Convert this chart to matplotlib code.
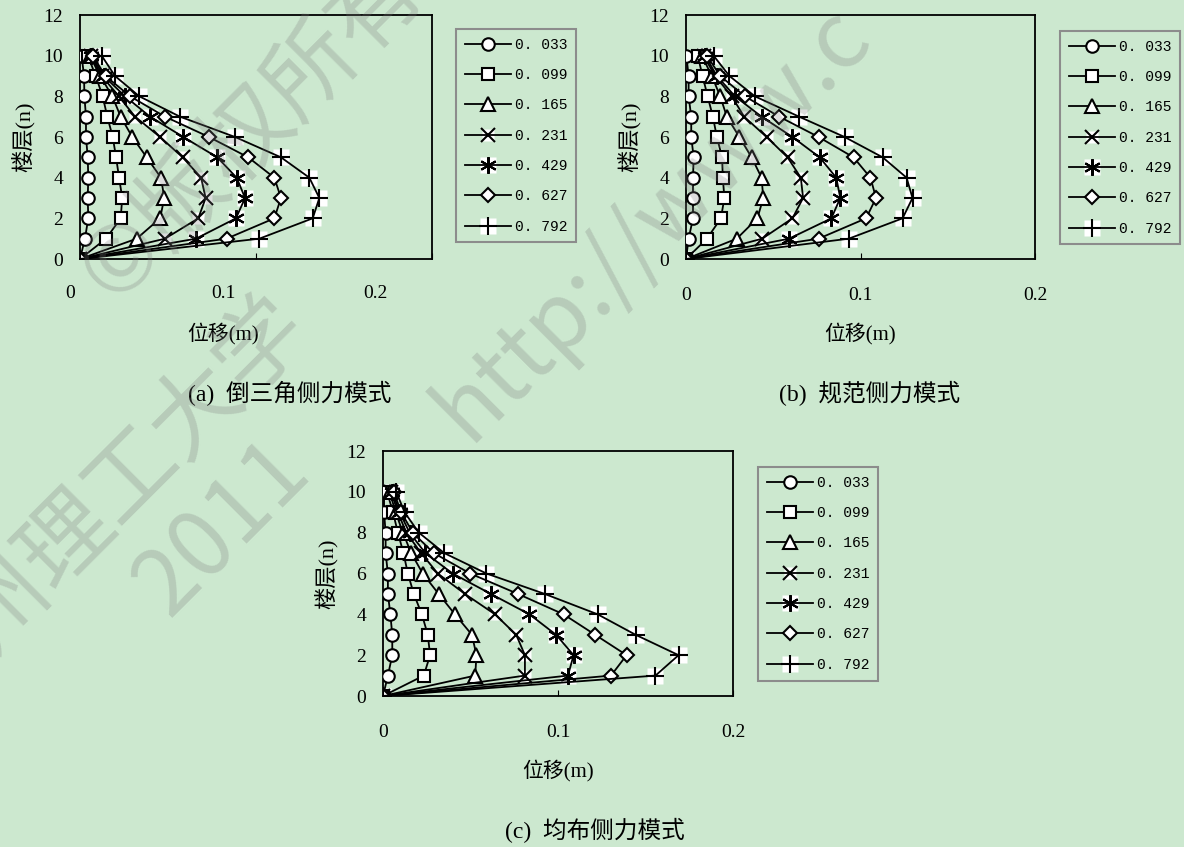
import numpy as np
import matplotlib.pyplot as plt
from matplotlib.legend_handler import HandlerTuple

plt.rcParams['font.family'] = ['Liberation Serif', 'Noto Sans CJK SC']
plt.rcParams['axes.unicode_minus'] = False

floors = np.arange(0, 11)
series_labels = ['0. 033', '0. 099', '0. 165', '0. 231', '0. 429', '0. 627', '0. 792']
x_ticks = [0, 0.1, 0.2]
x_tick_labels = ['0', '0.1', '0.2']
y_ticks = [0, 2, 4, 6, 8, 10, 12]

# (a) 倒三角侧力模式
a_033 = [0, 0.0028, 0.0047, 0.0044, 0.0047, 0.0044, 0.0034, 0.0034, 0.0025, 0.0023, 0.0009]
a_099 = [0, 0.0148, 0.0231, 0.0240, 0.0222, 0.0205, 0.0186, 0.0155, 0.0129, 0.0089, 0.0045]
a_165 = [0, 0.0322, 0.0455, 0.0479, 0.0460, 0.0379, 0.0297, 0.0231, 0.0184, 0.0115, 0.0055]
a_231 = [0, 0.0483, 0.0672, 0.0714, 0.0688, 0.0583, 0.0455, 0.0313, 0.0220, 0.0125, 0.0060]
a_429 = [0, 0.0659, 0.0886, 0.0938, 0.0890, 0.0780, 0.0587, 0.0398, 0.0256, 0.0135, 0.0065]
a_627 = [0, 0.0833, 0.1104, 0.1142, 0.1104, 0.0956, 0.0733, 0.0483, 0.0285, 0.0145, 0.0072]
a_792 = [0, 0.1019, 0.1322, 0.1360, 0.1303, 0.1142, 0.0881, 0.0568, 0.0337, 0.0199, 0.0123]

# (b) 规范侧力模式
b_033 = [0, 0.0015, 0.0040, 0.0040, 0.0040, 0.0044, 0.0030, 0.0030, 0.0015, 0.0015, 0.0002]
b_099 = [0, 0.0120, 0.0200, 0.0220, 0.0211, 0.0207, 0.0177, 0.0154, 0.0124, 0.0095, 0.0067]
b_165 = [0, 0.0291, 0.0409, 0.0443, 0.0433, 0.0376, 0.0306, 0.0234, 0.0196, 0.0148, 0.0091]
b_231 = [0, 0.0437, 0.0610, 0.0671, 0.0658, 0.0582, 0.0462, 0.0333, 0.0262, 0.0167, 0.0101]
b_429 = [0, 0.0591, 0.0833, 0.0884, 0.0861, 0.0766, 0.0610, 0.0433, 0.0281, 0.0177, 0.0110]
b_627 = [0, 0.0760, 0.1032, 0.1089, 0.1057, 0.0960, 0.0760, 0.0534, 0.0338, 0.0196, 0.0120]
b_792 = [0, 0.0933, 0.1241, 0.1298, 0.1264, 0.1127, 0.0909, 0.0648, 0.0395, 0.0249, 0.0158]

# (c) 均布侧力模式
c_033 = [0, 0.0028, 0.0053, 0.0053, 0.0042, 0.0028, 0.0028, 0.0015, 0.0015, 0.0006, 0.0006]
c_099 = [0, 0.0233, 0.0269, 0.0256, 0.0222, 0.0176, 0.0142, 0.0117, 0.0085, 0.0057, 0.0023]
c_165 = [0, 0.0527, 0.0534, 0.0508, 0.0411, 0.0318, 0.0227, 0.0161, 0.0114, 0.0072, 0.0038]
c_231 = [0, 0.0811, 0.0811, 0.0761, 0.0640, 0.0468, 0.0313, 0.0218, 0.0133, 0.0085, 0.0047]
c_429 = [0, 0.1057, 0.1089, 0.0989, 0.0837, 0.0616, 0.0398, 0.0242, 0.0152, 0.0095, 0.0053]
c_627 = [0, 0.1303, 0.1392, 0.1212, 0.1032, 0.0771, 0.0498, 0.0290, 0.0170, 0.0104, 0.0061]
c_792 = [0, 0.1557, 0.1689, 0.1443, 0.1227, 0.0924, 0.0591, 0.0350, 0.0205, 0.0123, 0.0076]

# marker, size, white box behind the marker (Excel style)
styles = [
    ('o', 9, False),
    ('s', 8.5, False),
    ('^', 10, False),
    ('x', 10, True),
    ((6, 2, 0), 12, True),
    ('D', 7, False),
    ('+', 13, True),
]

BG = '#cce8cf'
W, H = 1184, 847

fig = plt.figure(figsize=(W / 100, H / 100), dpi=100, facecolor=BG)


def px_axes(left, right, top, bottom):
    return fig.add_axes([left / W, 1 - bottom / H, (right - left) / W, (bottom - top) / H])


def draw_panel(ax, data):
    handles = []
    for vals, (mk, ms, boxed) in zip(data, styles):
        line, = ax.plot(vals, floors, color='black', lw=1.3, marker=mk, ms=ms,
                        mfc='white', mec='black', mew=1.5, zorder=3)
        if boxed:
            box, = ax.plot(vals, floors, ls='none', marker='s', ms=ms * 0.92,
                           mfc='white', mec='none', zorder=2.9)
            handles.append((box, line))
        else:
            handles.append(line)
    ax.set_xlim(0, 0.2)
    ax.set_ylim(0, 12)
    ax.set_facecolor(BG)
    for sp in ax.spines.values():
        sp.set_linewidth(1.3)
    ax.set_yticks(y_ticks)
    ax.set_xticks(x_ticks)
    ax.tick_params(axis='y', length=0, pad=12, labelsize=14)
    ax.tick_params(axis='x', direction='in', length=4, pad=20, labelsize=14)
    ax.set_ylabel('楼层(n)', fontsize=16, labelpad=6)
    return handles


def add_legend(handles, left, top):
    leg = fig.legend(handles, series_labels, loc='upper left',
                     bbox_to_anchor=(left / W, 1 - top / H),
                     handler_map={tuple: HandlerTuple(ndivide=1)},
                     prop={'family': 'Liberation Mono', 'size': 10.5},
                     frameon=True, fancybox=False, edgecolor='#8c8c8c',
                     facecolor=BG, framealpha=1, handlelength=3.2,
                     handletextpad=0.25, labelspacing=1.12, borderpad=0.6,
                     borderaxespad=0)
    leg.get_frame().set_linewidth(1.5)
    return leg


# (a)
ax_a = px_axes(80, 432, 15, 259)
h = draw_panel(ax_a, [a_033, a_099, a_165, a_231, a_429, a_627, a_792])
ax_a.set_xticklabels([])
for px, txt in zip([70, 223, 375], x_tick_labels):
    fig.text(px / W, 1 - 293 / H, txt, ha='center', va='center', fontsize=14)
ax_a.set_xlabel('位移(m)', fontsize=15)
ax_a.xaxis.set_label_coords((223 - 80) / 352, -(333 - 259) / 244)
ax_a.xaxis.label.set_va('center')
add_legend(h, 456, 29)
fig.text(290 / W, 1 - 393 / H, '(a)  倒三角侧力模式', ha='center', va='center', fontsize=17)

# (b)
ax_b = px_axes(686, 1035, 15, 259)
h = draw_panel(ax_b, [b_033, b_099, b_165, b_231, b_429, b_627, b_792])
ax_b.set_xticklabels(x_tick_labels)
ax_b.set_xlabel('位移(m)', fontsize=15)
ax_b.xaxis.set_label_coords(0.5, -(333 - 259) / 244)
ax_b.xaxis.label.set_va('center')
add_legend(h, 1060, 31)
fig.text(870 / W, 1 - 393 / H, '(b)  规范侧力模式', ha='center', va='center', fontsize=17)

# (c)
ax_c = px_axes(383, 733, 451, 696)
h = draw_panel(ax_c, [c_033, c_099, c_165, c_231, c_429, c_627, c_792])
ax_c.set_xticklabels(x_tick_labels)
ax_c.set_xlabel('位移(m)', fontsize=15)
ax_c.xaxis.set_label_coords(0.5, -(770 - 696) / 245)
ax_c.xaxis.label.set_va('center')
add_legend(h, 758, 467)
fig.text(595 / W, 1 - 830 / H, '(c)  均布侧力模式', ha='center', va='center', fontsize=17)

# copyright watermark over everything, anchored at the start of each line
wm = dict(color='#7a7a7a', alpha=0.26, rotation=45, rotation_mode='anchor',
          ha='left', va='center', fontweight='light',
          family=['Noto Sans CJK SC', 'DejaVu Sans'], zorder=10)
fig.text(95 / W, 1 - 285 / H, '©版权所有', fontsize=66, **wm)
fig.text(-95 / W, 1 - 700 / H, '兰州理工大学', fontsize=66, **wm)
fig.text(150 / W, 1 - 600 / H, '2011', fontsize=66, **wm)
fig.text(450 / W, 1 - 425 / H, 'http://www.c', fontsize=66, **wm)

fig.savefig('out.png', dpi=100, facecolor=BG)
